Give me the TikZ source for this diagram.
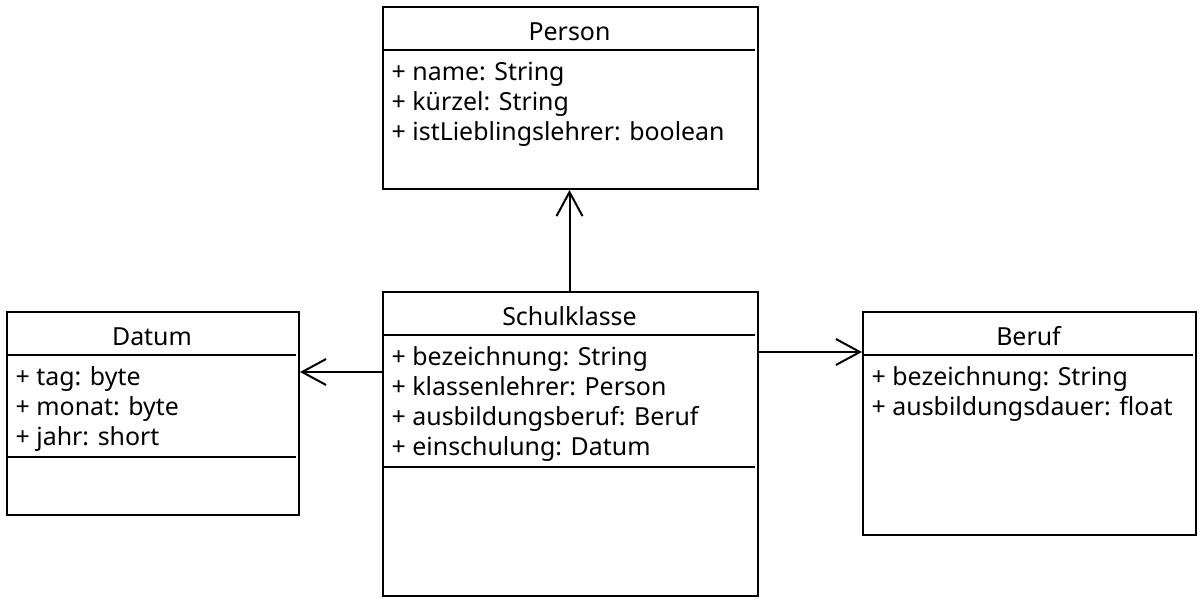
\documentclass[tikz,border=0pt]{standalone}
\usepackage{fontspec}
\setmainfont{Noto Sans}
\usetikzlibrary{arrows.meta}
\begin{document}
\begin{tikzpicture}[x=1pt,y=-1pt,
  umlbox/.style={draw=black, line width=2pt, rectangle, anchor=north west, inner sep=0pt, fill=white},
  sepline/.style={line width=2pt},
  title/.style={anchor=base, inner sep=0pt, font=\fontsize{24.9}{30}\selectfont},
  attr/.style={anchor=base west, inner sep=0pt, font=\fontsize{24.9}{30}\selectfont},
  assoc/.style={line width=2pt, -{Straight Barb[length=24pt,width=26pt,line width=2pt]}}
]
\useasboundingbox (0,0) rectangle (1200,600);
% Person
\node[umlbox, minimum width=375pt, minimum height=182pt] (person) at (382,6) {};
\draw[sepline] (382,50) -- (755,50);
\node[title] (persont) at (569.5,40) {Person};
\node[attr] (p1) at (391.5,80.5) {+ name: String};
\node[attr] (p2) at (391.5,110.5) {+ kürzel: String};
\node[attr] (p3) at (391.5,140.5) {+ istLieblingslehrer: boolean};
% Schulklasse
\node[umlbox, minimum width=375pt, minimum height=304pt] (schul) at (382,291) {};
\draw[sepline] (382,335) -- (755,335);
\draw[sepline] (382,467) -- (755,467);
\node[title] (schult) at (569.5,325) {Schulklasse};
\node[attr] (s1) at (391.5,365.5) {+ bezeichnung: String};
\node[attr] (s2) at (391.5,395.5) {+ klassenlehrer: Person};
\node[attr] (s3) at (391.5,425.5) {+ ausbildungsberuf: Beruf};
\node[attr] (s4) at (391.5,455.5) {+ einschulung: Datum};
% Datum
\node[umlbox, minimum width=292pt, minimum height=203pt] (datum) at (6,311) {};
\draw[sepline] (6,355) -- (296,355);
\draw[sepline] (6,457) -- (296,457);
\node[title] (datumt) at (152,345) {Datum};
\node[attr] (d1) at (15.5,385.5) {+ tag: byte};
\node[attr] (d2) at (15.5,415.5) {+ monat: byte};
\node[attr] (d3) at (15.5,445.5) {+ jahr: short};
% Beruf
\node[umlbox, minimum width=333pt, minimum height=223pt] (beruf) at (862,311) {};
\draw[sepline] (862,355) -- (1193,355);
\node[title] (beruft) at (1028.5,345) {Beruf};
\node[attr] (b1) at (871.5,385.5) {+ bezeichnung: String};
\node[attr] (b2) at (871.5,415.5) {+ ausbildungsdauer: float};
% connectors
\coordinate (sp) at (569.5,291);
\draw[assoc] (sp) -- (sp |- person.south);
\coordinate (sl) at (382,372);
\draw[assoc] (sl) -- (sl -| datum.east);
\coordinate (sr) at (757,352);
\draw[assoc] (sr) -- (sr -| beruf.west);
\end{tikzpicture}
\end{document}
